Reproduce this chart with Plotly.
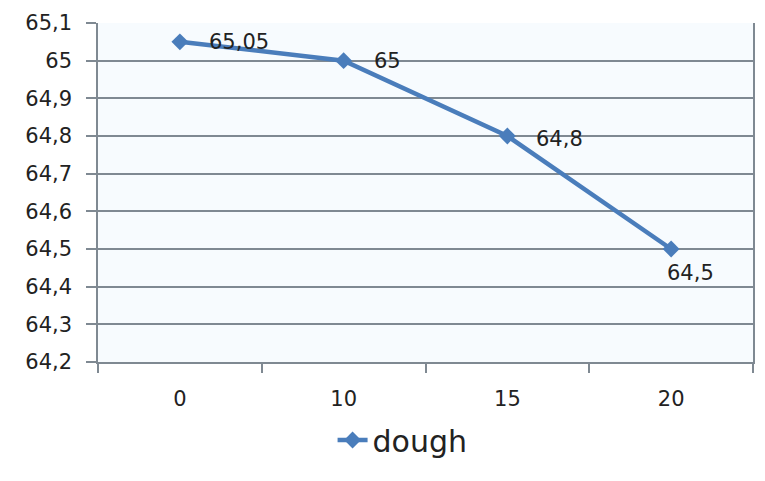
import plotly.graph_objects as go

# Dough measurements at each level
categories = ["0", "10", "15", "20"]
dough = [65.05, 65.0, 64.8, 64.5]
y_ticks = [64.2, 64.3, 64.4, 64.5, 64.6, 64.7, 64.8, 64.9, 65.0, 65.1]


def fmt(v):
    s = f"{v:.2f}".rstrip("0").rstrip(".")
    return s.replace(".", ",")


y_ticktext = [fmt(v) for v in y_ticks]
labels = [fmt(v) for v in dough]

LINE = "#4a7dbb"
GRID = "#7f8992"
FONT = "DejaVu Sans"
TXT = "#222"

fig = go.Figure()
fig.add_trace(go.Scatter(
    x=categories, y=dough, mode="lines+markers", name="dough",
    line=dict(color=LINE, width=4.5),
    marker=dict(symbol="diamond", size=13, color=LINE),
))

# Data labels beside each point (the last one sits below its point)
offsets = [(27, 0), (28, 0), (27, -3), (-6, -24)]
for i, (val, txt, (dx, dy)) in enumerate(zip(dough, labels, offsets)):
    fig.add_annotation(x=i, y=val, text=txt, showarrow=False,
                       xanchor="left", yanchor="middle", xshift=dx, yshift=dy,
                       font=dict(family=FONT, size=21, color=TXT))

fig.update_layout(
    width=765, height=481,
    margin=dict(l=98, r=10, t=23, b=119),
    paper_bgcolor="white", plot_bgcolor="#f7fbfe",
    font=dict(family=FONT, size=21, color=TXT),
    showlegend=True,
    legend=dict(orientation="h", x=0.465, xanchor="center", y=-0.23,
                yanchor="middle", font=dict(size=30, color=TXT),
                bgcolor="rgba(0,0,0,0)"),
)
fig.update_xaxes(
    type="category", range=[-0.5, 3.5], tickson="boundaries",
    ticks="outside", ticklen=9, tickcolor=GRID, tickwidth=1.5,
    showline=True, linecolor=GRID, linewidth=1.5, showgrid=False,
    ticklabelstandoff=17, tickfont=dict(size=21, color=TXT),
)
fig.update_yaxes(
    range=[64.2, 65.1], tickvals=y_ticks, ticktext=y_ticktext,
    ticks="outside", ticklen=10, tickcolor=GRID, tickwidth=1.5,
    showline=True, mirror=True, linecolor=GRID, linewidth=1.5,
    showgrid=True, gridcolor=GRID, gridwidth=1.5, zeroline=False,
    ticklabelstandoff=10, tickfont=dict(size=21, color=TXT),
)

fig.write_html("out.html")
